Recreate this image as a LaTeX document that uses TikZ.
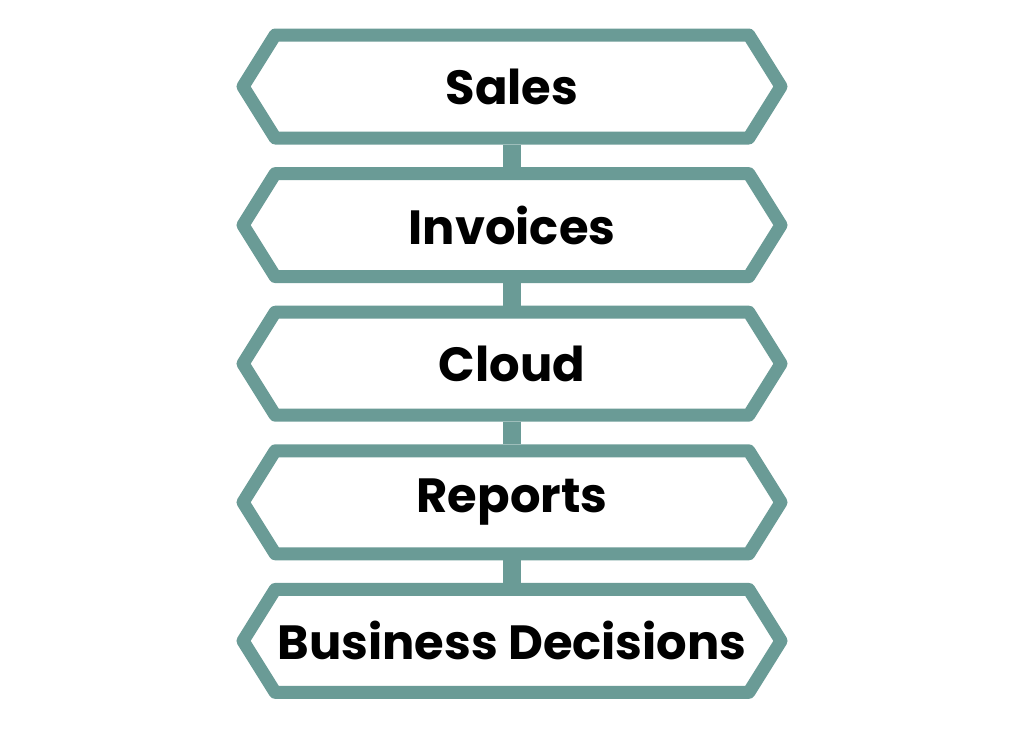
\documentclass[tikz,border=0pt]{standalone}
\usepackage{fontspec}
\setmainfont{Poppins}
\usepackage{tikz}
\usetikzlibrary{
  shapes.symbols,
  positioning
}
\definecolor{tealline}{RGB}{106,155,150}
\tikzset{
  stage/.style={shape=signal, signal to=east and west, signal pointer angle=116,
    draw=tealline, line width=13pt, line join=round, fill=white,
    minimum width=538pt, minimum height=103pt, inner sep=0pt,
    font=\fontsize{48}{52}\selectfont\bfseries},
  link/.style={draw=tealline, line width=18pt}
}
\begin{document}
\begin{tikzpicture}[x=1pt,y=1pt,node distance = 22.6pt]
      \useasboundingbox (0,0) rectangle (1024,-728);
      \node[stage] (sales) at (512,-86.5) {Sales};
      \node[stage,below = of sales] (invoices) {Invoices};
      \node[stage,below = of invoices] (cloud) {Cloud};
      \node[stage,below = of cloud] (reports) {Reports};
      \node[stage,below = of reports] (decisions) {Business Decisions};

      \draw[link] (sales.south) -- (invoices.north);
      \draw[link] (invoices.south) -- (cloud.north);
      \draw[link] (cloud.south) -- (reports.north);
      \draw[link] (reports.south) -- (decisions.north);
    \end{tikzpicture}
\end{document}
